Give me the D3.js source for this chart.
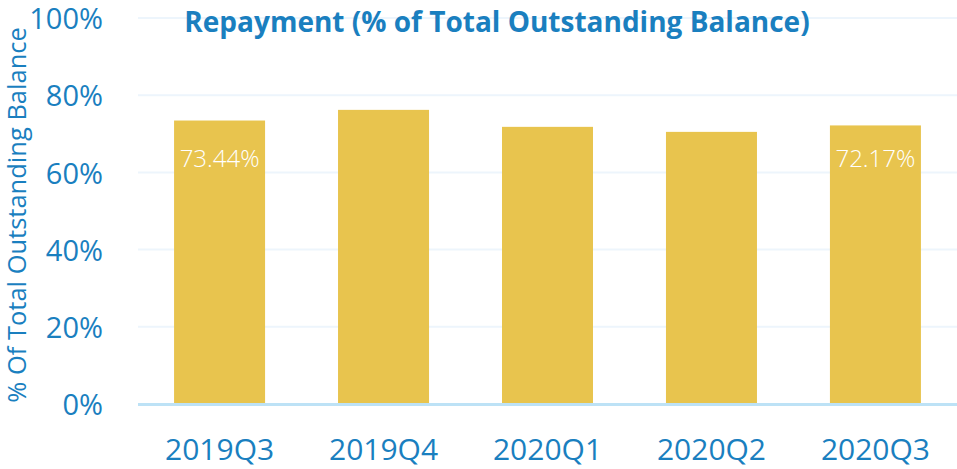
<!DOCTYPE html>
<html>
<head>
<meta charset="utf-8">
<script src="https://cdn.jsdelivr.net/npm/d3@7"></script>
<style>
  body { margin: 0; background: #fff; }
  text { font-family: "Open Sans", sans-serif; }
</style>
</head>
<body>
<div id="chart"></div>
<script>
// data
const quarters = ['2019Q3', '2019Q4', '2020Q1', '2020Q2', '2020Q3']
const repayment = [73.44, 76.2, 71.8, 70.5, 72.17]
const labelled = ['2019Q3', '2020Q3']
const yTicks = [0, 20, 40, 60, 80, 100]

const width = 957,
  height = 469
const plotLeft = 138, plotRight = 957, plotTop = 18, plotBottom = 404
const blue = '#1a7fbf'

let svg = d3.select('#chart')
  .append('svg')
  .attr('width', width)
  .attr('height', height)

const x = d3.scaleBand()
  .domain(quarters)
  .range([plotLeft, plotRight])
  .paddingInner(0.445)
  .paddingOuter(0.22)

const y = d3.scaleLinear()
  .domain([0, 100])
  .range([plotBottom, plotTop])

const rows = quarters.map((q, i) => ({ q: q, v: repayment[i] }))

// gridlines
svg.append('g')
  .selectAll('line')
  .data(yTicks.slice(1))
  .enter()
  .append('line')
  .attr('x1', plotLeft)
  .attr('x2', plotRight)
  .attr('y1', d => y(d))
  .attr('y2', d => y(d))
  .attr('stroke', '#edf5fc')
  .attr('stroke-width', 2)

// y axis labels
const yAxis = d3.axisLeft(y)
  .tickValues(yTicks)
  .tickFormat(d => d + '%')
  .tickSize(0)
  .tickPadding(0)

svg.append('g')
  .attr('transform', `translate(103,0)`)
  .call(yAxis)
  .call(g => g.select('.domain').remove())
  .selectAll('text')
  .attr('fill', blue)
  .attr('font-size', 29)
  .attr('dy', '0.37em')
  .attr('font-family', '"Open Sans", sans-serif')

// bars
svg.selectAll('rect.bar')
  .data(rows)
  .enter()
  .append('rect')
  .attr('class', 'bar')
  .attr('x', d => x(d.q))
  .attr('y', d => y(d.v))
  .attr('width', x.bandwidth())
  .attr('height', d => plotBottom - y(d.v))
  .attr('fill', '#e8c44e')

// baseline
svg.append('line')
  .attr('x1', plotLeft)
  .attr('x2', plotRight)
  .attr('y1', y(0) + 0.5)
  .attr('y2', y(0) + 0.5)
  .attr('stroke', '#bde2f6')
  .attr('stroke-width', 3)

// x axis labels
const xAxis = d3.axisBottom(x)
  .tickSize(0)
  .tickPadding(0)

svg.append('g')
  .attr('transform', `translate(0,439)`)
  .call(xAxis)
  .call(g => g.select('.domain').remove())
  .selectAll('text')
  .attr('fill', blue)
  .attr('font-size', 30)
  .attr('font-family', '"Open Sans", sans-serif')

// data labels
svg.selectAll('text.val')
  .data(rows.filter(d => labelled.includes(d.q)))
  .enter()
  .append('text')
  .attr('class', 'val')
  .attr('x', d => x(d.q) + x.bandwidth() / 2)
  .attr('y', 167)
  .attr('text-anchor', 'middle')
  .attr('fill', '#fff')
  .attr('font-size', 24)
  .attr('font-weight', 300)
  .text(d => d.v.toFixed(2) + '%')

// title
svg.append('text')
  .attr('x', 497)
  .attr('y', 32)
  .attr('text-anchor', 'middle')
  .attr('fill', blue)
  .attr('font-size', 28)
  .attr('font-weight', 'bold')
  .text('Repayment (% of Total Outstanding Balance)')

// y axis title
svg.append('text')
  .attr('transform', 'translate(26,215) rotate(-90)')
  .attr('text-anchor', 'middle')
  .attr('fill', blue)
  .attr('font-size', 25.5)
  .text('% Of Total Outstanding Balance')
</script>
</body>
</html>
